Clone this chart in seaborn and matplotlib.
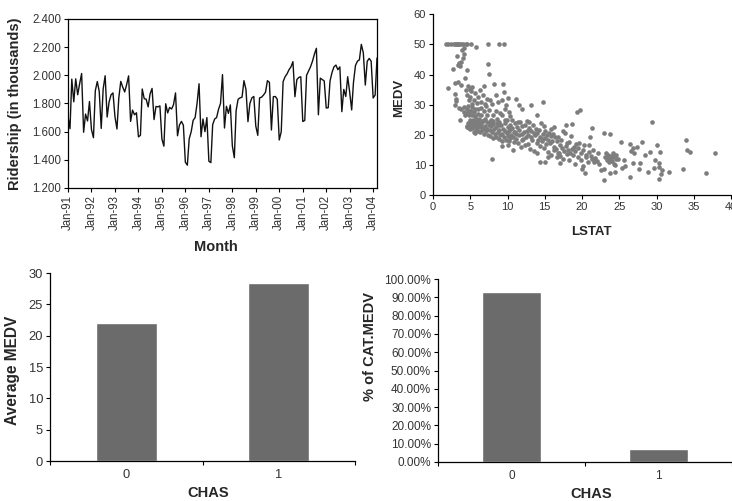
import numpy as np
import pandas as pd
import matplotlib
matplotlib.use("Agg")
import matplotlib.pyplot as plt
import matplotlib.dates as mdates
from matplotlib.ticker import FuncFormatter
import seaborn as sns

# ---------------- data ----------------
ridership = [
    1709, 1621, 1973, 1812, 1975, 1862, 1940, 2013, 1596, 1725, 1676, 1814,
    1615, 1557, 1891, 1956, 1885, 1623, 1903, 1997, 1704, 1810, 1862, 1875,
    1705, 1619, 1837, 1957, 1917, 1882, 1933, 1996, 1673, 1753, 1720, 1734,
    1563, 1574, 1903, 1834, 1831, 1776, 1868, 1907, 1686, 1779, 1776, 1783,
    1548, 1497, 1798, 1733, 1772, 1761, 1792, 1875, 1571, 1647, 1673, 1646,
    1383, 1362, 1550, 1600, 1680, 1700, 1800, 1940, 1564, 1690, 1600, 1700,
    1390, 1380, 1650, 1690, 1700, 1760, 1800, 2005, 1626, 1780, 1730, 1790,
    1500, 1415, 1750, 1830, 1840, 1845, 1962, 1900, 1671, 1800, 1840, 1850,
    1640, 1574, 1840, 1845, 1860, 1880, 1962, 1950, 1612, 1848, 1850, 1830,
    1541, 1600, 1955, 1990, 2010, 2040, 2060, 2097, 1848, 1970, 1985, 1990,
    1672, 1680, 2000, 2030, 2060, 2100, 2150, 2192, 1720, 1980, 1970, 1960,
    1768, 1770, 1960, 2020, 2060, 2073, 2040, 2060, 1742, 1900, 1850, 1990,
    1880, 1754, 1950, 2070, 2100, 2110, 2220, 2160, 1931, 2100, 2120, 2100,
    1839, 1860, 2123,
]
months = pd.date_range("1991-01-01", periods=len(ridership), freq="MS")

lstat = [
    1.73, 1.98, 2.47, 2.88, 2.96, 3.16, 3.26, 3.32, 3.53, 3.73,
    4.00, 4.45, 4.63, 5.12, 7.44, 8.88, 9.53,
    2.0, 2.7, 2.9, 3.0, 3.1, 3.2, 3.3, 3.4, 3.5, 3.6,
    3.7, 3.8, 3.9, 4.0, 4.1, 4.2, 4.3, 4.4, 4.5, 4.6,
    4.7, 4.8, 4.9, 5.0, 5.1, 5.2, 5.3, 5.5, 5.6, 5.8,
    5.9, 6.1, 6.3, 6.5, 6.7, 6.9, 7.0, 7.2, 7.4, 7.5,
    7.7, 7.9, 8.2, 8.5, 8.7, 9.4, 9.5, 9.3, 9.8, 10.0,
    3.0, 3.1, 3.5, 3.6, 3.8, 4.1, 4.2, 4.3, 4.5, 4.6,
    4.7, 4.8, 4.9, 5.0, 5.1, 5.2, 5.3, 5.4, 5.5, 5.6,
    5.7, 5.8, 5.9, 6.0, 6.1, 6.2, 6.4, 6.5, 6.6, 6.8,
    7.0, 7.1, 7.3, 7.5, 7.6, 7.8, 8.0, 8.1, 8.4, 8.6,
    8.9, 9.0, 9.3, 9.6, 9.7, 10.2, 10.4, 10.6, 11.2, 11.6,
    4.5, 4.6, 4.7, 4.8, 4.9, 5.0, 5.0, 5.1, 5.2, 5.2,
    5.3, 5.4, 5.5, 5.5, 5.6, 5.7, 5.7, 5.8, 5.9, 6.0,
    6.0, 6.1, 6.2, 6.3, 6.3, 6.4, 6.5, 6.6, 6.7, 6.8,
    6.9, 7.0, 7.1, 7.2, 7.3, 7.4, 7.5, 7.6, 7.7, 7.8,
    7.9, 8.0, 8.1, 8.2, 8.3, 8.4, 8.5, 8.6, 8.7, 7.9,
    8.8, 8.9, 9.0, 9.1, 9.2, 9.3, 9.4, 9.5, 9.6, 9.7,
    9.8, 9.9, 10.0, 10.0, 10.1, 10.2, 10.3, 10.4, 10.5, 10.6,
    10.7, 10.8, 10.9, 11.0, 11.1, 11.2, 11.3, 11.4, 11.5, 11.6,
    11.7, 11.8, 11.9, 12.0, 12.1, 12.2, 12.3, 12.4, 12.5, 12.6,
    9.2, 9.9, 10.4, 10.9, 11.4, 8.9, 10.2, 11.0, 12.0, 12.6,
    12.7, 12.8, 12.9, 13.0, 13.1, 13.2, 13.3, 13.4, 13.5, 13.6,
    13.7, 13.8, 13.9, 14.0, 14.1, 14.2, 14.3, 14.4, 14.5, 14.6,
    14.7, 14.8, 14.9, 15.0, 15.1, 15.2, 15.3, 15.4, 15.5, 15.6,
    15.7, 15.8, 15.9, 16.0, 16.1, 16.2, 16.3, 16.4, 14.0, 13.1,
    14.7, 12.0, 14.3, 15.0, 15.4, 13.9, 15.8, 16.3, 12.9, 14.9,
    16.5, 16.6, 16.7, 16.8, 16.9, 17.0, 17.1, 17.2, 17.3, 17.4,
    17.5, 17.6, 17.7, 17.8, 17.9, 18.0, 18.1, 18.2, 18.3, 18.4,
    18.5, 18.6, 18.7, 18.8, 18.9, 19.0, 19.1, 19.3, 19.4, 19.5,
    19.6, 19.7, 19.8, 19.9, 20.0, 20.1, 20.2, 20.3, 20.4, 20.5,
    20.6, 20.8, 20.9, 20.9, 21.1, 21.3, 17.0, 18.0, 16.8, 19.2,
    21.2, 21.4, 21.5, 21.6, 21.8, 22.0, 22.1, 22.3, 22.6, 22.9,
    22.9, 23.0, 23.1, 23.2, 23.3, 23.4, 23.5, 23.6, 23.7, 23.8,
    23.8, 23.9, 24.0, 24.1, 24.2, 24.3, 24.4, 24.4, 24.5, 24.6,
    24.8, 25.3, 25.4, 25.6, 25.8,
    26.4, 26.5, 26.6, 26.8, 26.9, 27.0, 27.4, 27.7, 27.8, 28.0,
    28.4, 28.8, 29.1, 29.4, 29.6, 29.8, 30.0, 30.3, 30.4, 30.4,
    30.5, 30.6, 30.7, 31.7, 33.6, 34.0, 34.1, 34.5, 36.6, 37.8,
]
medv = [
    50, 50, 50, 50, 50, 50, 50, 50, 50, 50,
    50, 50, 50, 50, 50, 50, 50,
    35.4, 42.0, 37.2, 33.4, 32.0, 46.0, 43.1, 37.6, 43.8, 42.8,
    36.5, 44.0, 48.3, 45.4, 48.7, 46.7, 38.7, 34.9, 41.5, 33.2,
    36.2, 31.6, 35.1, 32.7, 34.6, 30.1, 36.0, 31.5, 33.8, 49.3,
    30.5, 32.4, 34.9, 31.0, 33.1, 36.1, 30.3, 32.0, 43.5, 40.2,
    31.7, 30.1, 36.9, 33.3, 30.8, 36.9, 34.3, 31.5, 30.0, 32.2,
    29.8, 31.1, 29.0, 25.0, 28.4, 29.1, 27.5, 26.6, 28.7, 27.1,
    29.6, 26.4, 28.0, 25.0, 27.9, 26.6, 29.1, 24.8, 27.5, 26.2,
    28.4, 25.3, 24.7, 27.0, 28.7, 25.2, 26.7, 29.0, 24.6, 27.9,
    25.1, 29.6, 26.5, 28.1, 24.4, 25.0, 26.6, 24.5, 28.0, 25.2,
    24.3, 27.1, 26.4, 28.7, 24.8, 27.5, 26.2, 25.0, 31.8, 29.8,
    23.0, 22.6, 23.9, 22.2, 24.1, 23.4, 21.8, 22.9, 23.7, 24.4,
    22.4, 23.1, 21.0, 24.0, 22.8, 23.5, 20.6, 22.0, 23.8, 24.6,
    22.5, 21.4, 23.2, 24.3, 20.9, 22.7, 23.6, 21.7, 24.5, 22.3,
    20.4, 23.0, 21.2, 24.1, 22.0, 20.0, 23.3, 21.6, 19.6, 22.8,
    20.8, 23.7, 18.9, 21.9, 20.3, 22.6, 19.4, 23.9, 20.9, 11.9,
    18.6, 21.7, 19.8, 23.1, 20.4, 17.8, 22.0, 19.3, 21.2, 24.0,
    18.2, 20.6, 22.6, 16.7, 19.6, 21.4, 23.4, 18.9, 20.0, 22.2,
    15.0, 19.1, 21.0, 23.9, 18.5, 20.3, 22.5, 17.2, 19.8, 21.7,
    24.4, 16.1, 20.1, 22.9, 18.7, 20.8, 16.6, 23.1, 19.3, 21.3,
    16.4, 24.8, 21.8, 17.5, 24.1, 23.4, 18.0, 20.9, 18.1, 24.5,
    17.1, 20.0, 22.4, 15.3, 19.4, 21.2, 18.2, 23.1, 20.5, 14.5,
    19.9, 22.0, 17.4, 20.6, 18.4, 21.7, 16.2, 19.3, 23.9, 17.8,
    20.1, 18.7, 15.6, 21.4, 19.0, 16.8, 19.9, 14.3, 18.3, 20.6,
    17.2, 19.5, 13.4, 18.0, 20.2, 16.1, 14.9, 19.1, 26.4, 29.9,
    31.0, 28.5, 11.0, 10.9, 12.7, 13.8, 21.9, 22.6, 24.3, 22.8,
    15.2, 12.5, 17.8, 19.4, 14.0, 16.6, 13.1, 18.4, 15.6, 21.4,
    12.1, 14.6, 20.7, 16.4, 23.3, 13.6, 15.0, 17.5, 11.7, 14.1,
    19.6, 15.4, 23.5, 13.3, 16.1, 10.2, 14.5, 27.7, 12.7, 15.6,
    17.2, 28.2, 13.8, 11.5, 8.5, 14.9, 9.7, 16.7, 7.2, 12.6,
    13.4, 10.8, 16.6, 14.4, 19.4, 22.1, 10.5, 17.2, 13.8, 16.8,
    13.1, 11.9, 15.0, 10.9, 12.3, 11.3, 13.8, 10.4, 8.4, 5.0,
    8.5, 20.5, 12.7, 13.9, 11.7, 12.5, 13.4, 10.9, 12.0, 20.2,
    7.2, 13.1, 11.4, 14.1, 12.7, 10.2, 10.0, 7.8, 13.3, 12.1,
    11.8, 17.7, 8.8, 11.6, 9.6,
    6.1, 17.1, 14.6, 15.7, 10.5, 13.8, 16.1, 8.7, 10.5, 17.7,
    13.4, 7.5, 14.4, 24.1, 8.9, 11.5, 16.5, 5.2, 9.4, 10.5,
    14.4, 7.0, 8.3, 7.6, 8.7, 18.3, 15.0, 14.3, 7.2, 14.1,
]

chas = ["0", "1"]
avg_medv = [22.1, 28.4]
pct_cat_medv = [0.93, 0.07]

# ---------------- style ----------------
sns.set_theme(style="white")
plt.rcParams["font.family"] = ["Liberation Sans", "DejaVu Sans"]
TXT = "#333333"
BAR_C = "#6b6b6b"

fig = plt.figure(figsize=(7.32, 5.01), dpi=100)

def px_axes(x0, y0, x1, y1):
    W, H = 732.0, 501.0
    return fig.add_axes([x0 / W, 1 - y1 / H, (x1 - x0) / W, (y1 - y0) / H])

def style_ticks(ax, fs):
    ax.tick_params(axis="both", which="major", direction="out", length=3,
                   width=0.8, color="black", labelsize=fs, labelcolor=TXT,
                   pad=2, left=True, bottom=True)
    for s in ax.spines.values():
        s.set_color("black")
        s.set_linewidth(0.9)

# ---- top-left: ridership line ----
ax1 = px_axes(68, 19, 377, 188)
df_r = pd.DataFrame({"Month": months, "Ridership": ridership})
sns.lineplot(data=df_r, x="Month", y="Ridership", ax=ax1, color="#111111", linewidth=1.0)
ax1.set_xlim(pd.Timestamp("1991-01-01"), pd.Timestamp("2004-03-01"))
ax1.set_ylim(1200, 2400)
ax1.set_yticks(np.arange(1200, 2401, 200))
ax1.yaxis.set_major_formatter(FuncFormatter(lambda v, p: f"{v/1000:.3f}"))
ax1.xaxis.set_major_locator(mdates.YearLocator())
ax1.xaxis.set_major_formatter(mdates.DateFormatter("%b-%y"))
style_ticks(ax1, 8.3)
for lab in ax1.get_xticklabels():
    lab.set_rotation(90)
ax1.set_xlabel("Month", fontsize=10.5, fontweight="bold")
ax1.set_ylabel("Ridership (in thousands)", fontsize=10.5, fontweight="bold")
ax1.xaxis.set_label_coords(0.48, -0.31)
ax1.yaxis.set_label_coords(-0.149, 0.5)
for s in ax1.spines.values():
    s.set_visible(True)

# ---- top-right: scatter ----
ax2 = px_axes(433, 14.3, 731, 195)
df_s = pd.DataFrame({"LSTAT": lstat, "MEDV": medv})
sns.scatterplot(data=df_s, x="LSTAT", y="MEDV", ax=ax2, color="#7d7d7d",
                s=11, linewidth=0, alpha=1)
ax2.set_xlim(0, 40)
ax2.set_ylim(0, 60)
ax2.set_xticks(range(0, 41, 5))
ax2.set_yticks(range(0, 61, 10))
style_ticks(ax2, 8)
ax2.spines["top"].set_visible(False)
ax2.spines["right"].set_visible(False)
ax2.set_xlabel("LSTAT", fontsize=9.5, fontweight="bold")
ax2.set_ylabel("MEDV", fontsize=9.5, fontweight="bold")
ax2.xaxis.set_label_coords(0.53, -0.17)
ax2.yaxis.set_label_coords(-0.094, 0.537)

# ---- bottom bars ----
def bar_axes(ax, vals, ylab, tick_fs, ylab_fs):
    df_b = pd.DataFrame({"CHAS": chas, "val": vals})
    sns.barplot(data=df_b, x="CHAS", y="val", ax=ax, color=BAR_C, width=0.4,
                saturation=1, errorbar=None)
    ax.set_xlim(-0.5, 1.5)
    ax.set_xticks([-0.5, 0.5, 1.5])
    ax.set_xticklabels([])
    ax.set_xticks([0, 1], minor=True)
    ax.set_xticklabels(chas, minor=True)
    style_ticks(ax, tick_fs)
    ax.tick_params(axis="x", which="minor", length=0, labelsize=tick_fs,
                   labelcolor=TXT, pad=6)
    ax.spines["top"].set_visible(False)
    ax.spines["right"].set_visible(False)
    ax.set_xlabel("CHAS", fontsize=10.5, fontweight="bold")
    ax.set_ylabel(ylab, fontsize=ylab_fs, fontweight="bold")

ax3 = px_axes(50, 273, 355, 461)
bar_axes(ax3, avg_medv, "Average MEDV", 9.3, 11.2)
ax3.set_ylim(0, 30)
ax3.set_yticks(range(0, 31, 5))
ax3.xaxis.set_label_coords(0.52, -0.135)
ax3.yaxis.set_label_coords(-0.098, 0.48)

ax4 = px_axes(438, 279, 732, 462)
bar_axes(ax4, pct_cat_medv, "% of CAT.MEDV", 8.5, 10.5)
ax4.set_ylim(0, 1.0)
ax4.set_yticks(np.arange(0, 1.001, 0.1))
ax4.yaxis.set_major_formatter(FuncFormatter(lambda v, p: f"{v*100:.2f}%"))
ax4.xaxis.set_label_coords(0.52, -0.135)
ax4.yaxis.set_label_coords(-0.207, 0.63)

fig.savefig("out.png", dpi=100)
